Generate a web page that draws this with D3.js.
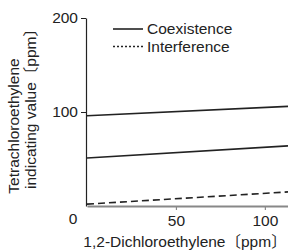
<!DOCTYPE html>
<html><head><meta charset="utf-8">
<script src="https://cdn.jsdelivr.net/npm/d3@7"></script>
<style>
html,body{margin:0;padding:0;background:#fff;}
svg{display:block;}
text{font-family:"Liberation Sans","Noto Sans CJK JP",Arial,sans-serif;fill:#222;}
</style></head>
<body>
<script>
// data
const xDomain = [0, 113];
const yDomain = [0, 200];
const xTicks = [50, 100];
const yTicks = [100, 200];
const xs = [0, 113];
const coexistenceUpper = [96, 106];
const coexistenceLower = [51, 64];
const interference = [2, 15];
const legendLabels = ["Coexistence", "Interference"];
const xTitle = "1,2-Dichloroethylene〔ppm〕";
const yTitleLines = ["Tetrachloroethylene", "indicating value〔ppm〕"];

const W = 288, H = 250, FS = 15.5;
const svg = d3.select("body").append("svg").attr("width", W).attr("height", H);

const x = d3.scaleLinear().domain(xDomain).range([87, 288]);
const y = d3.scaleLinear().domain(yDomain).range([206, 18]);

// x axis
const xAxis = svg.append("g").attr("transform", `translate(0,${y(0)})`)
  .call(d3.axisBottom(x).tickValues(xTicks).tickSize(4).tickPadding(5).tickSizeOuter(0));
xAxis.select(".domain").attr("stroke", "#888").attr("stroke-width", 2);
xAxis.selectAll(".tick line").attr("stroke", "#888").attr("stroke-width", 1.2);
xAxis.selectAll("text").attr("font-size", FS).attr("fill", "#222")
  .attr("font-family", '"Liberation Sans",Arial,sans-serif');

// y axis
const yAxis = svg.append("g").attr("transform", `translate(86,0)`)
  .call(d3.axisLeft(y).tickValues(yTicks).tickSize(5).tickPadding(3).tickSizeOuter(0));
yAxis.select(".domain").attr("stroke", "#222").attr("stroke-width", 1.2);
yAxis.selectAll(".tick line").attr("stroke", "#222").attr("stroke-width", 1);
yAxis.selectAll("text").attr("font-size", FS).attr("fill", "#222")
  .attr("font-family", '"Liberation Sans",Arial,sans-serif');

// origin label
svg.append("text").attr("x", 73).attr("y", 219).attr("dy", "0.35em")
  .attr("text-anchor", "middle").attr("font-size", FS).text("0");

// lines
const line = d3.line().x((d, i) => x(xs[i])).y(d => y(d));
svg.append("path").datum(coexistenceUpper).attr("d", line)
  .attr("fill", "none").attr("stroke", "#222").attr("stroke-width", 1.6);
svg.append("path").datum(coexistenceLower).attr("d", line)
  .attr("fill", "none").attr("stroke", "#222").attr("stroke-width", 1.6);
svg.append("path").datum(interference).attr("d", line)
  .attr("fill", "none").attr("stroke", "#222").attr("stroke-width", 1.6)
  .attr("stroke-dasharray", "7,4");

// legend
const legY = [29, 46.5];
const legDash = [null, "2,2"];
legendLabels.forEach((lab, i) => {
  svg.append("line").attr("x1", 113).attr("x2", 143).attr("y1", legY[i]).attr("y2", legY[i])
    .attr("stroke", "#222").attr("stroke-width", 1.6)
    .attr("stroke-dasharray", legDash[i]);
  svg.append("text").attr("x", 147).attr("y", legY[i]).attr("dy", "0.35em")
    .attr("font-size", FS).text(lab);
});

// axis titles
svg.append("text").attr("x", 185).attr("y", 242).attr("dy", "0.35em")
  .attr("text-anchor", "middle").attr("font-size", FS).text(xTitle);
const yCenters = [[14, 126], [31, 105]];
yTitleLines.forEach((t, i) => {
  svg.append("text")
    .attr("transform", `translate(${yCenters[i][0]},${yCenters[i][1]}) rotate(-90)`)
    .attr("dy", "0.35em").attr("text-anchor", "middle").attr("font-size", FS).text(t);
});
</script>
</body></html>
